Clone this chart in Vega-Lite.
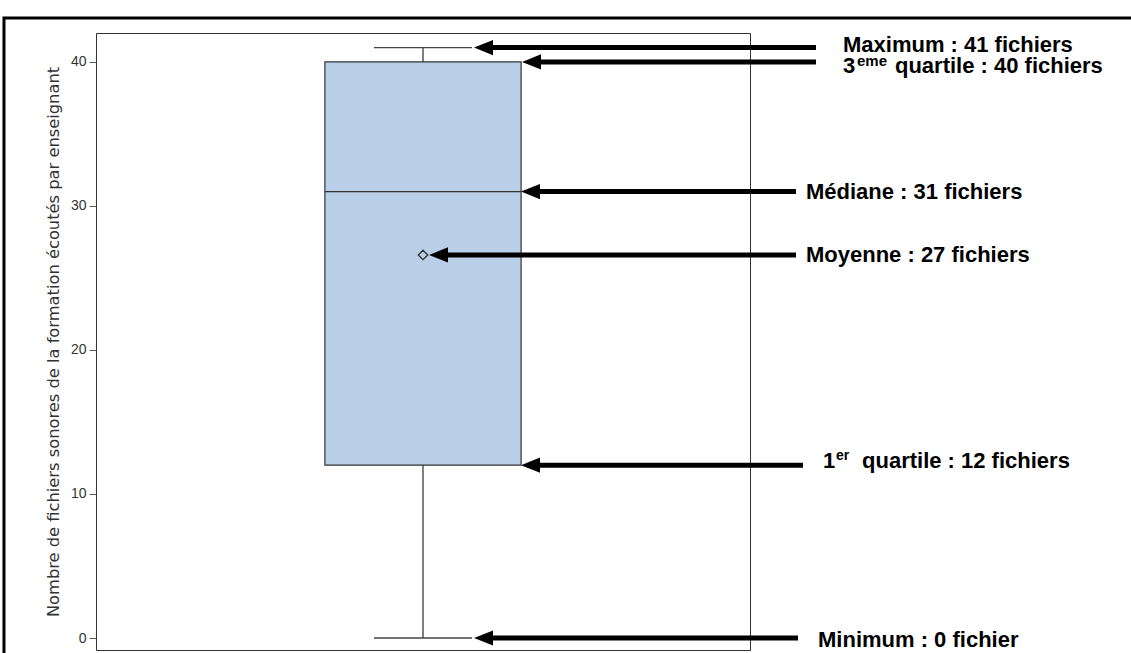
{
  "$schema": "https://vega.github.io/schema/vega-lite/v6.json",
  "autosize": "none",
  "width": 654,
  "height": 617,
  "padding": {"left": 96, "top": 33, "right": 381, "bottom": 3},
  "background": "white",
  "config": {
    "font": "Liberation Sans",
    "view": {"stroke": "#333333", "strokeWidth": 1}
  },
  "data": {"values": [{"min": 0, "q1": 12, "median": 31, "q3": 40, "max": 41, "mean": 26.6}]},
  "encoding": {
    "y": {"type": "quantitative"}
  },
  "layer": [
    {
      "mark": {"type": "rect", "fill": null, "filled": false, "stroke": "black", "strokeWidth": 3, "clip": false},
      "encoding": {
        "x": {"datum": -0.1407, "type": "quantitative", "scale": {"domain": [0, 1], "nice": false, "zero": false}, "axis": null},
        "x2": {"datum": 2},
        "y": {"datum": 43.06, "type": "quantitative", "scale": {"domain": [-0.833, 42.01], "nice": false, "zero": false},
          "axis": {"values": [0, 10, 20, 30, 40], "grid": false, "domain": false, "tickSize": 7, "tickColor": "#555555",
            "labelFont": "Liberation Sans", "labelFontSize": 14, "labelColor": "#333333", "labelPadding": 3,
            "title": "Nombre de fichiers sonores de la formation écoutés par enseignant",
            "titleFont": "DejaVu Sans", "titleFontSize": 16.3, "titleFontWeight": "normal", "titleColor": "#333333", "titlePadding": 9}},
        "y2": {"datum": -5}
      }
    },
    {
      "mark": {"type": "rule", "color": "black", "strokeWidth": 1},
      "encoding": {"x": {"datum": 0.5, "type": "quantitative"}, "y": {"field": "min", "type": "quantitative"}, "y2": {"field": "q1"}}
    },
    {
      "mark": {"type": "rule", "color": "black", "strokeWidth": 1},
      "encoding": {"x": {"datum": 0.5, "type": "quantitative"}, "y": {"field": "q3", "type": "quantitative"}, "y2": {"field": "max"}}
    },
    {
      "mark": {"type": "rule", "color": "#444444", "strokeWidth": 1.3},
      "encoding": {"x": {"datum": 0.425, "type": "quantitative"}, "x2": {"datum": 0.575}, "y": {"field": "min", "type": "quantitative"}}
    },
    {
      "mark": {"type": "rule", "color": "#444444", "strokeWidth": 1.3},
      "encoding": {"x": {"datum": 0.425, "type": "quantitative"}, "x2": {"datum": 0.575}, "y": {"field": "max", "type": "quantitative"}}
    },
    {
      "mark": {"type": "rect", "fill": "#B9CFE8", "stroke": "#333333", "strokeWidth": 1.2},
      "encoding": {"x": {"datum": 0.35, "type": "quantitative"}, "x2": {"datum": 0.65}, "y": {"field": "q1", "type": "quantitative"}, "y2": {"field": "q3"}}
    },
    {
      "mark": {"type": "rule", "color": "#333333", "strokeWidth": 1.3},
      "encoding": {"x": {"datum": 0.35, "type": "quantitative"}, "x2": {"datum": 0.65}, "y": {"field": "median", "type": "quantitative"}}
    },
    {
      "mark": {"type": "point", "shape": "diamond", "filled": false, "stroke": "#333333", "strokeWidth": 1.3, "size": 90, "opacity": 1},
      "encoding": {"x": {"datum": 0.5, "type": "quantitative"}, "y": {"field": "mean", "type": "quantitative"}}
    },

    {
      "mark": {"type": "rule", "color": "black", "strokeWidth": 5, "clip": false},
      "encoding": {"x": {"datum": 0.596, "type": "quantitative"}, "x2": {"datum": 1.1009}, "y": {"field": "max", "type": "quantitative"}}
    },
    {
      "mark": {"type": "point", "shape": "M0,0L2,-0.8L2,0.8Z", "filled": true, "color": "black", "size": 361, "opacity": 1, "clip": false},
      "encoding": {"x": {"datum": 0.578, "type": "quantitative"}, "y": {"field": "max", "type": "quantitative"}}
    },
    {
      "mark": {"type": "rule", "color": "black", "strokeWidth": 5, "clip": false},
      "encoding": {"x": {"datum": 0.6697, "type": "quantitative"}, "x2": {"datum": 1.1009}, "y": {"field": "q3", "type": "quantitative"}}
    },
    {
      "mark": {"type": "point", "shape": "M0,0L2,-0.8L2,0.8Z", "filled": true, "color": "black", "size": 361, "opacity": 1, "clip": false},
      "encoding": {"x": {"datum": 0.6514, "type": "quantitative"}, "y": {"field": "q3", "type": "quantitative"}}
    },
    {
      "mark": {"type": "rule", "color": "black", "strokeWidth": 5, "clip": false},
      "encoding": {"x": {"datum": 0.668, "type": "quantitative"}, "x2": {"datum": 1.0703}, "y": {"field": "median", "type": "quantitative"}}
    },
    {
      "mark": {"type": "point", "shape": "M0,0L2,-0.8L2,0.8Z", "filled": true, "color": "black", "size": 361, "opacity": 1, "clip": false},
      "encoding": {"x": {"datum": 0.6498, "type": "quantitative"}, "y": {"field": "median", "type": "quantitative"}}
    },
    {
      "mark": {"type": "rule", "color": "black", "strokeWidth": 5, "clip": false},
      "encoding": {"x": {"datum": 0.5275, "type": "quantitative"}, "x2": {"datum": 1.0703}, "y": {"field": "mean", "type": "quantitative"}}
    },
    {
      "mark": {"type": "point", "shape": "M0,0L2,-0.8L2,0.8Z", "filled": true, "color": "black", "size": 361, "opacity": 1, "clip": false},
      "encoding": {"x": {"datum": 0.5092, "type": "quantitative"}, "y": {"field": "mean", "type": "quantitative"}}
    },
    {
      "mark": {"type": "rule", "color": "black", "strokeWidth": 5, "clip": false},
      "encoding": {"x": {"datum": 0.668, "type": "quantitative"}, "x2": {"datum": 1.081}, "y": {"field": "q1", "type": "quantitative"}}
    },
    {
      "mark": {"type": "point", "shape": "M0,0L2,-0.8L2,0.8Z", "filled": true, "color": "black", "size": 361, "opacity": 1, "clip": false},
      "encoding": {"x": {"datum": 0.6498, "type": "quantitative"}, "y": {"field": "q1", "type": "quantitative"}}
    },
    {
      "mark": {"type": "rule", "color": "black", "strokeWidth": 5, "clip": false},
      "encoding": {"x": {"datum": 0.596, "type": "quantitative"}, "x2": {"datum": 1.0734}, "y": {"field": "min", "type": "quantitative"}}
    },
    {
      "mark": {"type": "point", "shape": "M0,0L2,-0.8L2,0.8Z", "filled": true, "color": "black", "size": 361, "opacity": 1, "clip": false},
      "encoding": {"x": {"datum": 0.578, "type": "quantitative"}, "y": {"field": "min", "type": "quantitative"}}
    },

    {
      "mark": {"type": "text", "align": "left", "baseline": "alphabetic", "fontSize": 22, "fontWeight": "bold", "color": "black", "dy": 4, "clip": false},
      "encoding": {"x": {"datum": 1.1422, "type": "quantitative"}, "y": {"field": "max", "type": "quantitative"}, "text": {"value": "Maximum : 41 fichiers"}}
    },
    {
      "mark": {"type": "text", "align": "left", "baseline": "alphabetic", "fontSize": 22, "fontWeight": "bold", "color": "black", "dy": 11.5, "clip": false},
      "encoding": {"x": {"datum": 1.1422, "type": "quantitative"}, "y": {"field": "q3", "type": "quantitative"}, "text": {"value": "3"}}
    },
    {
      "mark": {"type": "text", "align": "left", "baseline": "alphabetic", "fontSize": 15, "fontWeight": "bold", "color": "black", "dy": 4, "clip": false},
      "encoding": {"x": {"datum": 1.1636, "type": "quantitative"}, "y": {"field": "q3", "type": "quantitative"}, "text": {"value": "eme"}}
    },
    {
      "mark": {"type": "text", "align": "left", "baseline": "alphabetic", "fontSize": 22, "fontWeight": "bold", "color": "black", "dy": 11.5, "clip": false},
      "encoding": {"x": {"datum": 1.2217, "type": "quantitative"}, "y": {"field": "q3", "type": "quantitative"}, "text": {"value": "quartile : 40 fichiers"}}
    },
    {
      "mark": {"type": "text", "align": "left", "baseline": "alphabetic", "fontSize": 22, "fontWeight": "bold", "color": "black", "dy": 7, "clip": false},
      "encoding": {"x": {"datum": 1.0856, "type": "quantitative"}, "y": {"field": "median", "type": "quantitative"}, "text": {"value": "Médiane : 31 fichiers"}}
    },
    {
      "mark": {"type": "text", "align": "left", "baseline": "alphabetic", "fontSize": 22, "fontWeight": "bold", "color": "black", "dy": 7, "clip": false},
      "encoding": {"x": {"datum": 1.0856, "type": "quantitative"}, "y": {"field": "mean", "type": "quantitative"}, "text": {"value": "Moyenne : 27 fichiers"}}
    },
    {
      "mark": {"type": "text", "align": "left", "baseline": "alphabetic", "fontSize": 22, "fontWeight": "bold", "color": "black", "dy": 3, "clip": false},
      "encoding": {"x": {"datum": 1.1116, "type": "quantitative"}, "y": {"field": "q1", "type": "quantitative"}, "text": {"value": "1"}}
    },
    {
      "mark": {"type": "text", "align": "left", "baseline": "alphabetic", "fontSize": 14, "fontWeight": "bold", "color": "black", "dy": -5, "clip": false},
      "encoding": {"x": {"datum": 1.1315, "type": "quantitative"}, "y": {"field": "q1", "type": "quantitative"}, "text": {"value": "er"}}
    },
    {
      "mark": {"type": "text", "align": "left", "baseline": "alphabetic", "fontSize": 22, "fontWeight": "bold", "color": "black", "dy": 3, "clip": false},
      "encoding": {"x": {"datum": 1.1713, "type": "quantitative"}, "y": {"field": "q1", "type": "quantitative"}, "text": {"value": "quartile : 12 fichiers"}}
    },
    {
      "mark": {"type": "text", "align": "left", "baseline": "alphabetic", "fontSize": 22, "fontWeight": "bold", "color": "black", "dy": 9, "clip": false},
      "encoding": {"x": {"datum": 1.104, "type": "quantitative"}, "y": {"field": "min", "type": "quantitative"}, "text": {"value": "Minimum : 0 fichier"}}
    }
  ]
}
